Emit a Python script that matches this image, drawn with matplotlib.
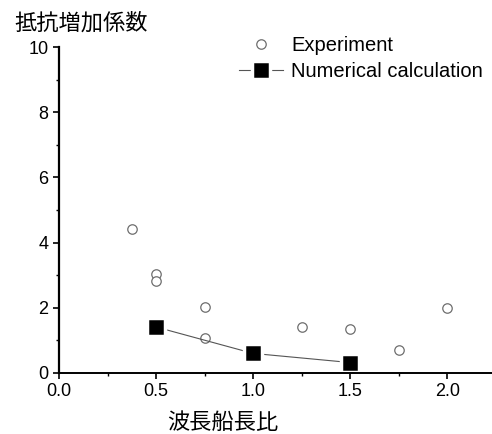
import matplotlib.pyplot as plt
from matplotlib.ticker import MultipleLocator

plt.rcParams['font.family'] = ['Liberation Sans', 'Noto Sans CJK JP', 'DejaVu Sans']

# experiment points
exp_x = [0.375, 0.5, 0.5, 0.75, 0.75, 1.0, 1.25, 1.5, 1.75, 2.0]
exp_y = [4.41, 3.04, 2.81, 2.02, 1.06, 0.76, 1.40, 1.34, 0.70, 1.98]

# numerical calculation
num_x = [0.5, 1.0, 1.5]
num_y = [1.41, 0.60, 0.32]

fig = plt.figure(figsize=(4.92, 4.34), dpi=100)
ax = fig.add_axes([0.12, 0.1406, 0.88, 0.751])

ax.plot(exp_x, exp_y, linestyle='none', marker='o', markersize=6.8,
        markerfacecolor='white', markeredgecolor='#6e6e6e', markeredgewidth=0.9,
        label='Experiment', zorder=2)
ax.plot(num_x, num_y, color='#555555', linewidth=0.8, marker='s', markersize=12.5,
        markerfacecolor='black', markeredgecolor='white', markeredgewidth=2.5,
        label='Numerical calculation', zorder=3)

ax.set_xlim(0, 2.23)
ax.set_ylim(0, 10)
ax.xaxis.set_major_locator(MultipleLocator(0.5))
ax.xaxis.set_minor_locator(MultipleLocator(0.25))
ax.yaxis.set_major_locator(MultipleLocator(2))
ax.yaxis.set_minor_locator(MultipleLocator(1))
ax.xaxis.set_major_formatter(lambda v, p: f"{v:.1f}")

# remove top and right spines, keep the others above the markers
ax.spines['top'].set_visible(False)
ax.spines['right'].set_visible(False)
ax.spines['left'].set_linewidth(1.6)
ax.spines['bottom'].set_linewidth(1.4)
for s in ax.spines.values():
    s.set_zorder(5)

ax.tick_params(which='major', direction='out', length=4.5, width=1.2, labelsize=13, pad=3)
ax.tick_params(which='minor', direction='out', length=2.5, width=1.0)

fig.text(0.03, 0.947, "抵抗増加係数", fontsize=16, ha='left', va='center',
         family=['Noto Sans CJK JP'])
fig.text(0.453, 0.026, "波長船長比", fontsize=16, ha='center', va='center',
         family=['Noto Sans CJK JP'])

ax.legend(frameon=False, loc='upper left', bbox_to_anchor=(0.485, 0.918),
          bbox_transform=fig.transFigure, fontsize=14.5, handlelength=2.2,
          handletextpad=0.4, labelspacing=0.35, borderpad=0, borderaxespad=0)

fig.savefig("out.png", dpi=100)
